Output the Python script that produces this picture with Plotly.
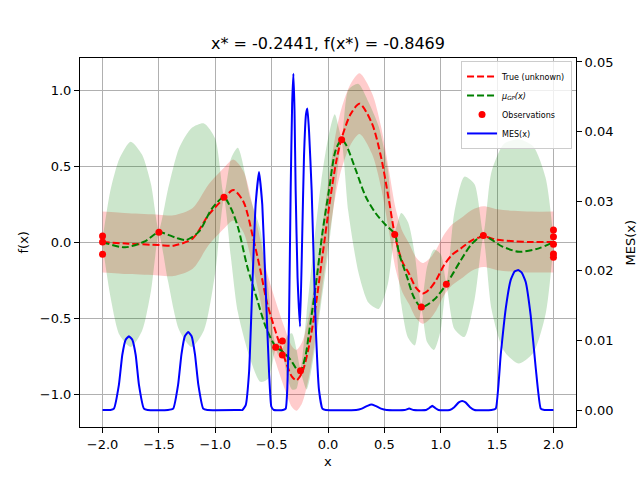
import plotly.graph_objects as go

# ---------------- data ----------------
title_text = "x* = -0.2441, f(x*) = -0.8469"

# true (unknown) function
true_x = [-2.0, -1.77, -1.5, -1.37, -1.2, -1.06, -0.92, -0.84, -0.75, -0.66, -0.6, -0.54,
          -0.46, -0.39, -0.32, -0.28, -0.23, -0.17, -0.11, -0.05, 0.01, 0.07, 0.12, 0.2,
          0.28, 0.39, 0.47, 0.54, 0.6, 0.66, 0.72, 0.78, 0.84, 0.9, 0.96, 1.03, 1.1, 1.18,
          1.28, 1.38, 1.5, 1.65, 1.8, 2.0]
true_y = [0.0, -0.011, -0.02, -0.024, 0.024, 0.178, 0.29, 0.342, 0.265, 0.013, -0.184, -0.403,
          -0.6, -0.755, -0.886, -0.91, -0.86, -0.689, -0.425, -0.096, 0.232, 0.518, 0.68, 0.84,
          0.91, 0.78, 0.561, 0.276, 0.02, -0.13, -0.21, -0.30, -0.338, -0.31, -0.25, -0.151, -0.085, -0.042,
          0.013, 0.035, 0.015, 0.005, 0.0, 0.0]
noise_band = 0.2

# GP posterior mean
mu_x = [-2.0, -1.8, -1.62, -1.5, -1.35, -1.26, -1.145, -1.03, -0.923, -0.86, -0.8, -0.716,
        -0.627, -0.553, -0.464, -0.405, -0.331, -0.272, -0.244, -0.198, -0.169, -0.11, -0.05,
        0.009, 0.068, 0.121, 0.16, 0.246, 0.335, 0.423, 0.512, 0.592, 0.63, 0.70, 0.76, 0.828,
        0.94, 1.05, 1.18, 1.28, 1.378, 1.547, 1.695, 1.87, 2.0]
mu_y = [0.0, -0.035, 0.006, 0.064, 0.028, 0.013, 0.068, 0.22, 0.294, 0.22, 0.10, -0.162,
        -0.382, -0.557, -0.689, -0.72, -0.776, -0.842, -0.847, -0.743, -0.6, -0.294, 0.057,
        0.342, 0.605, 0.673, 0.64, 0.474, 0.298, 0.189, 0.112, 0.053, -0.074, -0.228, -0.36, -0.428,
        -0.38, -0.278, -0.118, -0.009, 0.041, -0.03, -0.064, -0.042, 0.0]

# GP uncertainty band (upper / lower envelope)
gp_x = [-2.0, -1.93, -1.85, -1.75, -1.65, -1.57, -1.5, -1.42, -1.32, -1.21, -1.1, -1.0,
        -0.923, -0.86, -0.8, -0.69, -0.6, -0.53, -0.464, -0.435, -0.405, -0.36, -0.32, -0.28,
        -0.244, -0.19, -0.12, -0.06, 0.0, 0.06, 0.121, 0.18, 0.27, 0.36, 0.45, 0.53, 0.592,
        0.65, 0.71, 0.77, 0.828, 0.88, 0.94, 1.0, 1.05, 1.12, 1.21, 1.3, 1.378, 1.45, 1.56,
        1.69, 1.82, 1.93, 2.0]
gp_upper = [0.02, 0.34, 0.55, 0.66, 0.575, 0.38, 0.08, 0.345, 0.62, 0.75, 0.78, 0.68,
            0.31, 0.55, 0.62, 0.29, 0.08, -0.3, -0.67, -0.65, -0.70, -0.615, -0.60, -0.705,
            -0.83, -0.47, 0.02, 0.4, 0.68, 0.84, 0.69, 1.0, 1.04, 0.92, 0.76, 0.48, 0.07,
            0.19, 0.13, -0.08, -0.41, -0.16, -0.05, -0.08, -0.26, 0.19, 0.43, 0.38, 0.06, 0.46, 0.645,
            0.676, 0.63, 0.425, 0.02]
gp_lower = [-0.02, -0.36, -0.61, -0.69, -0.585, -0.32, 0.05, -0.255, -0.58, -0.69, -0.58, -0.20,
            0.28, -0.11, -0.46, -0.77, -0.92, -0.9, -0.71, -0.75, -0.74, -0.895, -0.97, -0.965,
            -0.865, -0.97, -0.72, -0.4, -0.08, 0.30, 0.655, 0.2, -0.2, -0.4, -0.44, -0.28, 0.035,
            -0.41, -0.63, -0.68, -0.445, -0.66, -0.71, -0.58, -0.295, -0.57, -0.625, -0.38, 0.025, -0.44, -0.715,
            -0.80, -0.73, -0.475, -0.02]

# observations
obs_x = [-2.0, -2.0, -2.0, -1.5, -0.923, -0.464, -0.405, -0.405, -0.244, 0.121, 0.592,
         0.828, 1.05, 1.378, 2.0, 2.0, 2.0, 2.0, 2.0]
obs_y = [0.039, 0.0, -0.081, 0.064, 0.294, -0.693, -0.651, -0.743, -0.847, 0.673, 0.05,
         -0.428, -0.278, 0.042, 0.079, 0.035, -0.015, -0.079, -0.10]

# MES acquisition (right axis)
mes_x = [-2.0, -1.93, -1.899, -1.855, -1.825, -1.795, -1.766, -1.736, -1.706, -1.677, -1.633, -1.6,
         -1.42, -1.373, -1.33, -1.30, -1.27, -1.24, -1.21, -1.18, -1.15, -1.107, -1.07,
         -0.79, -0.76, -0.73, -0.70, -0.672, -0.642, -0.612, -0.583, -0.553, -0.523, -0.503, -0.48,
         -0.40, -0.375, -0.361, -0.346, -0.331, -0.318, -0.307, -0.297, -0.287, -0.27, -0.248,
         -0.23, -0.213, -0.195, -0.183, -0.168, -0.145, -0.11, -0.08, -0.05, -0.02,
         0.25, 0.30, 0.35, 0.385, 0.42, 0.47, 0.52,
         0.68, 0.72, 0.76,
         0.87, 0.9, 0.925, 0.95, 0.98,
         1.08, 1.12, 1.16, 1.19, 1.22, 1.26, 1.3,
         1.45, 1.488, 1.532, 1.577, 1.621, 1.655, 1.688, 1.72, 1.754, 1.798, 1.843, 1.887, 1.92, 2.0]
mes_y = [0, 0, 0.0002, 0.0036, 0.0079, 0.0101, 0.0106, 0.0101, 0.0079, 0.0036, 0.0002, 0,
         0, 0.0002, 0.0036, 0.008, 0.0106, 0.0112, 0.0106, 0.008, 0.0036, 0.0002, 0,
         0, 0.0, 0.0007, 0.0055, 0.0175, 0.0295, 0.0342, 0.0295, 0.0175, 0.0055, 0.0005, 0,
         0, 0.0002, 0.0031, 0.0127, 0.0319, 0.044, 0.0483, 0.043, 0.0316, 0.019, 0.012,
         0.024, 0.0364, 0.0425, 0.0433, 0.04, 0.0316, 0.0125, 0.0029, 0.0002, 0,
         0, 0.0002, 0.0006, 0.0008, 0.0006, 0.0002, 0,
         0, 0.0002, 0,
         0, 0.0003, 0.0006, 0.0003, 0,
         0, 0.0004, 0.0011, 0.0013, 0.0011, 0.0004, 0,
         0, 0.0002, 0.0079, 0.0146, 0.0187, 0.0199, 0.0201, 0.0197, 0.0184, 0.0136, 0.006, 0.0002, 0, 0]

x_ticks = [-2.0, -1.5, -1.0, -0.5, 0.0, 0.5, 1.0, 1.5, 2.0]
x_ticklabels = ["\u22122.0", "\u22121.5", "\u22121.0", "\u22120.5", "0.0", "0.5", "1.0", "1.5", "2.0"]
y_ticks = [-1.0, -0.5, 0.0, 0.5, 1.0]
y_ticklabels = ["\u22121.0", "\u22120.5", "0.0", "0.5", "1.0"]
y2_ticks = [0.0, 0.01, 0.02, 0.03, 0.04, 0.05]
y2_ticklabels = ["0.00", "0.01", "0.02", "0.03", "0.04", "0.05"]

# ---------------- figure ----------------
FONT = "DejaVu Sans"
fig = go.Figure()

true_lo = [v - noise_band for v in true_y]
true_hi = [v + noise_band for v in true_y]

fig.add_trace(go.Scatter(x=true_x, y=true_lo, mode="lines",
                         line=dict(width=0, shape="spline", smoothing=0.8),
                         showlegend=False, hoverinfo="skip"))
fig.add_trace(go.Scatter(x=true_x, y=true_hi, mode="lines", fill="tonexty",
                         fillcolor="rgba(255,0,0,0.2)",
                         line=dict(width=0, shape="spline", smoothing=0.8),
                         showlegend=False, hoverinfo="skip"))
fig.add_trace(go.Scatter(x=gp_x, y=gp_lower, mode="lines",
                         line=dict(width=0, shape="spline", smoothing=0.7),
                         showlegend=False, hoverinfo="skip"))
fig.add_trace(go.Scatter(x=gp_x, y=gp_upper, mode="lines", fill="tonexty",
                         fillcolor="rgba(0,128,0,0.2)",
                         line=dict(width=0, shape="spline", smoothing=0.7),
                         showlegend=False, hoverinfo="skip"))

fig.add_trace(go.Scatter(x=true_x, y=true_y, mode="lines", name="True (unknown)",
                         line=dict(color="#ff0000", width=2, dash="7px,3px",
                                   shape="spline", smoothing=0.8)))
fig.add_trace(go.Scatter(x=mu_x, y=mu_y, mode="lines",
                         name="<i>\u03bc<sub>GP</sub>(x)</i>",
                         line=dict(color="#008000", width=2, dash="7px,3px",
                                   shape="spline", smoothing=0.8)))
fig.add_trace(go.Scatter(x=obs_x, y=obs_y, mode="markers", name="Observations",
                         marker=dict(color="#ff0000", size=7, line=dict(width=0))))
fig.add_trace(go.Scatter(x=mes_x, y=mes_y, mode="lines", name="MES(x)", yaxis="y2",
                         line=dict(color="#0000ff", width=2, shape="spline", smoothing=0.4)))

axis_common = dict(showline=True, linecolor="black", linewidth=1, ticks="outside",
                   ticklen=5, tickwidth=1, tickcolor="black", zeroline=False,
                   tickfont=dict(family=FONT, size=13, color="black"))

fig.update_layout(
    width=640, height=480,
    margin=dict(l=80, r=64, t=57.6, b=52.8, autoexpand=False),
    paper_bgcolor="white", plot_bgcolor="white",
    font=dict(family=FONT, color="black"),
    title=dict(text=title_text, x=0.5, xref="paper", y=1 - 43 / 480, yref="container",
               xanchor="center", yanchor="middle",
               font=dict(family=FONT, size=16, color="black")),
    xaxis=dict(range=[-2.2, 2.2], tickvals=x_ticks, ticktext=x_ticklabels,
               showgrid=True, gridcolor="#b0b0b0", gridwidth=1, mirror=True, **axis_common),
    yaxis=dict(range=[-1.217, 1.2105], tickvals=y_ticks, ticktext=y_ticklabels,
               showgrid=True, gridcolor="#b0b0b0", gridwidth=1, mirror=True, **axis_common),
    yaxis2=dict(range=[-0.00244, 0.05057], tickvals=y2_ticks, ticktext=y2_ticklabels,
                overlaying="y", side="right", showgrid=False, **axis_common),
    legend=dict(x=0.992, y=0.992, xanchor="right", yanchor="top", traceorder="normal",
                bgcolor="rgba(255,255,255,0.8)", bordercolor="#cccccc", borderwidth=1,
                font=dict(family=FONT, size=8, color="black"), tracegroupgap=0,
                itemwidth=30),
    showlegend=True,
    annotations=[
        dict(text="x", x=0.5, xref="paper", y=(427.2 - 462) / 369.6, yref="paper",
             showarrow=False, xanchor="center", yanchor="middle",
             font=dict(family=FONT, size=13, color="black")),
        dict(text="f(x)", x=(23 - 80) / 496, xref="paper", y=0.5, yref="paper",
             showarrow=False, textangle=-90, xanchor="center", yanchor="middle",
             font=dict(family=FONT, size=13, color="black")),
        dict(text="MES(x)", x=(630 - 80) / 496, xref="paper", y=0.5, yref="paper",
             showarrow=False, textangle=-90, xanchor="center", yanchor="middle",
             font=dict(family=FONT, size=13, color="black")),
    ],
)

fig.write_html("out.html")
